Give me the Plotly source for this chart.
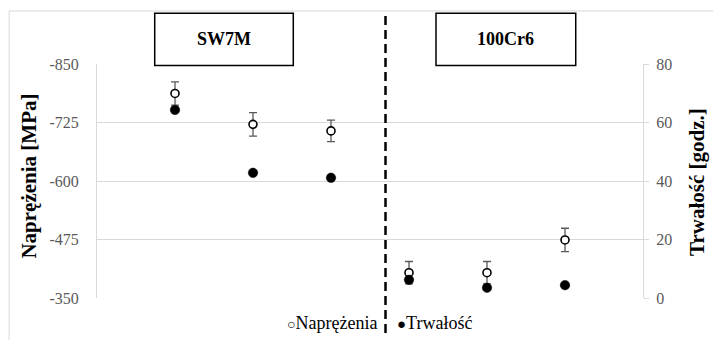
import plotly.graph_objects as go

positions = [1, 2, 3, 4, 5, 6]
naprezenia = [-787, -721, -707, -404, -404, -474]
naprezenia_err = [25, 25, 23, 24, 24, 25]
trwalosc = [64.3, 42.8, 41.1, 6.2, 3.5, 4.4]
left_ticks = [-850, -725, -600, -475, -350]
right_ticks = [0, 20, 40, 60, 80]
groups = ["SW7M", "100Cr6"]
series_names = ["Naprężenia", "Trwałość"]
axis_titles = ["Naprężenia [MPa]", "Trwałość [godz.]"]

SERIF = "Liberation Serif, Times New Roman, serif"
GRID = "#d9d9d9"
TICKC = "#595959"

fig = go.Figure()
# error bars of the stress series (drawn beneath the other markers)
fig.add_trace(go.Scatter(
    x=positions, y=naprezenia, mode="markers", name=series_names[0] + " err",
    marker=dict(size=8, color="rgba(0,0,0,0)", line=dict(width=0)),
    error_y=dict(type="data", array=naprezenia_err, color="#595959", thickness=1.3, width=4),
    yaxis="y", hoverinfo="skip",
))
fig.add_trace(go.Scatter(
    x=positions, y=trwalosc, mode="markers", name=series_names[1],
    marker=dict(symbol="circle", size=9.5, color="black", line=dict(color="black", width=0.5)),
    yaxis="y2",
))
fig.add_trace(go.Scatter(
    x=positions, y=naprezenia, mode="markers", name=series_names[0],
    marker=dict(symbol="circle", size=8, color="white", line=dict(color="black", width=1.6)),
    yaxis="y",
))

# outer chart frame (left and top edges visible)
fig.add_shape(type="line", xref="paper", yref="paper", x0=-0.161, x1=-0.161, y0=-0.5, y1=1.2265,
              line=dict(color=GRID, width=1))
fig.add_shape(type="line", xref="paper", yref="paper", x0=-0.161, x1=1.5, y0=1.2265, y1=1.2265,
              line=dict(color=GRID, width=1))

# group label boxes
boxes = [(0.1057, 0.3595), (0.6209, 0.8768)]
for (bx0, bx1), g in zip(boxes, groups):
    fig.add_shape(type="rect", xref="paper", yref="paper", x0=bx0, x1=bx1, y0=0.994, y1=1.2167,
                  line=dict(color="black", width=1.5), fillcolor="white", layer="above")
    fig.add_annotation(xref="paper", yref="paper", x=(bx0 + bx1) / 2, y=1.105, text="<b>%s</b>" % g,
                       xanchor="center", yanchor="middle",
                       showarrow=False, font=dict(family=SERIF, size=18, color="black"))

# dashed separator
fig.add_shape(type="line", xref="paper", yref="paper", x0=0.5284, x1=0.5284, y0=-0.15, y1=1.2137,
              line=dict(color="black", width=2.5, dash="9px,5px"), layer="above")

# axis titles
fig.add_annotation(xref="paper", yref="paper", x=-0.1245, y=0.519, text="<b>%s</b>" % axis_titles[0],
                   textangle=-90, xanchor="center", yanchor="middle", showarrow=False,
                   font=dict(family=SERIF, size=21, color="black"))
fig.add_annotation(xref="paper", yref="paper", x=1.0989, y=0.496, text="<b>%s</b>" % axis_titles[1],
                   textangle=-90, xanchor="center", yanchor="middle", showarrow=False,
                   font=dict(family=SERIF, size=21, color="black"))

# legend (drawn as text)
fig.add_annotation(xref="paper", yref="paper", x=0.5165, y=-0.1068,
                   text="<span style='font-size:14px'>○</span>" + series_names[0],
                   xanchor="right", yanchor="middle", showarrow=False,
                   font=dict(family=SERIF, size=18, color="black"))
fig.add_annotation(xref="paper", yref="paper", x=0.5458, y=-0.1068,
                   text="<span style='font-size:15px'>●</span>" + series_names[1],
                   xanchor="left", yanchor="middle", showarrow=False,
                   font=dict(family=SERIF, size=18, color="black"))

fig.update_layout(
    width=721, height=340,
    margin=dict(l=89, r=86, t=56, b=50),
    paper_bgcolor="white", plot_bgcolor="white",
    showlegend=False,
    xaxis=dict(range=[0, 7], showticklabels=False, showgrid=False, zeroline=False, showline=False,
               ticks="", automargin=False),
    yaxis=dict(range=[-350, -850], tickvals=left_ticks, ticktext=[str(v) for v in left_ticks],
               showgrid=True, gridcolor=GRID, gridwidth=1, zeroline=False,
               showline=True, linecolor=GRID, linewidth=1, ticks="", automargin=False,
               ticklabelstandoff=14,
               tickfont=dict(family=SERIF, size=16, color=TICKC)),
    yaxis2=dict(range=[0, 80], tickvals=right_ticks, overlaying="y", side="right",
                showgrid=False, zeroline=False, showline=True, linecolor=GRID, linewidth=1,
                ticks="outside", ticklen=5, tickcolor=GRID, automargin=False,
                ticklabelstandoff=4,
                tickfont=dict(family=SERIF, size=16, color=TICKC)),
)

fig.write_html("out.html")
